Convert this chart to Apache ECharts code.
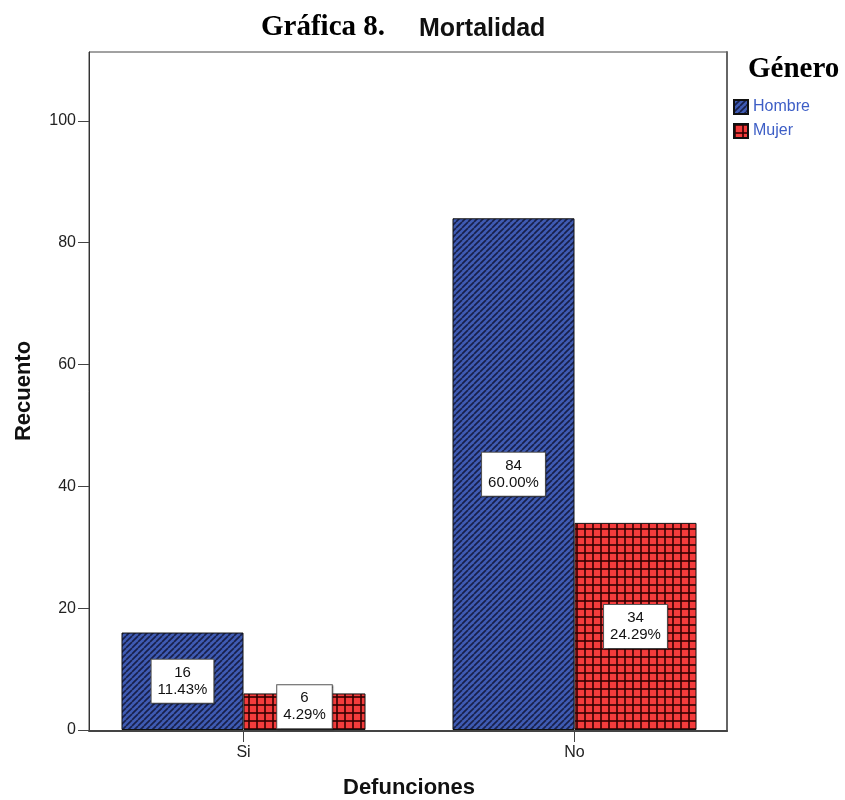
<!DOCTYPE html>
<html>
<head>
<meta charset="utf-8">
<script src="https://cdn.jsdelivr.net/npm/echarts@6/dist/echarts.min.js"></script>
<style>
  html, body { margin: 0; padding: 0; background: #fff; }
  #chart { width: 845px; height: 800px; }
</style>
</head>
<body>
<div id="chart"></div>
<script>
// Mortality counts by gender
const categories = ['Si', 'No'];
const hombre = [16, 84];
const mujer = [6, 34];
const yTicks = [0, 20, 40, 60, 80, 100];
const yMax = 111.3;

const total = hombre.concat(mujer).reduce((a, b) => a + b, 0);

// Fill patterns for the bars
function stripeTile() {
  const s = 6;
  const c = document.createElement('canvas');
  c.width = s; c.height = s;
  const g = c.getContext('2d');
  g.fillStyle = '#3f5bb3';
  g.fillRect(0, 0, s, s);
  g.strokeStyle = '#18204a';
  g.lineWidth = 1.7;
  for (const k of [-s, 0, s]) {
    g.beginPath();
    g.moveTo(k, s);
    g.lineTo(k + s, 0);
    g.stroke();
  }
  return c;
}
function checkTile() {
  const s = 8;
  const c = document.createElement('canvas');
  c.width = s; c.height = s;
  const g = c.getContext('2d');
  g.fillStyle = '#f43c3c';
  g.fillRect(0, 0, s, s);
  g.fillStyle = 'rgba(50,0,0,0.8)';
  g.fillRect(0, 0, s, 2);
  g.fillRect(0, 0, 2, s);
  return c;
}

const labelStyle = {
  show: true,
  position: 'inside',
  formatter: p => p.value + '\n' + (p.value / total * 100).toFixed(2) + '%',
  backgroundColor: '#fff',
  borderColor: '#555',
  borderWidth: 1,
  padding: [5, 6, 4, 6],
  fontFamily: 'Liberation Sans',
  fontSize: 15,
  lineHeight: 17,
  color: '#111',
  shadowColor: 'rgba(0,0,0,0.25)',
  shadowOffsetX: 1,
  shadowOffsetY: 1,
  shadowBlur: 1
};

const chart = echarts.init(document.getElementById('chart'), null, { renderer: 'canvas' });

chart.setOption({
  animation: false,
  backgroundColor: '#fff',
  title: [
    { text: 'Gráfica 8.', left: 256, top: 8,
      textStyle: { fontFamily: 'Liberation Serif', fontWeight: 'bold', fontSize: 29, color: '#000' } },
    { text: 'Mortalidad', left: 414, top: 12,
      textStyle: { fontFamily: 'Liberation Sans', fontWeight: 'bold', fontSize: 25, color: '#111' } },
    { text: 'Género', left: 743, top: 50,
      textStyle: { fontFamily: 'Liberation Serif', fontWeight: 'bold', fontSize: 29, color: '#000' } }
  ],
  legend: {
    orient: 'vertical',
    left: 733,
    top: 99,
    padding: 0,
    itemWidth: 14,
    itemHeight: 14,
    itemGap: 8,
    icon: 'rect',
    textStyle: { fontFamily: 'Liberation Sans', fontSize: 16, color: '#3d5ec6' },
    data: ['Hombre', 'Mujer']
  },
  grid: [
    // outer frame
    { left: 89, right: 118, top: 52, bottom: 69, show: true, borderColor: '#444', borderWidth: 1,
      backgroundColor: 'transparent', outerBoundsMode: 'none' },
    // plotting grid
    { left: 78, right: 105, top: 52, bottom: 70, outerBoundsMode: 'none' }
  ],
  xAxis: [
    { gridIndex: 0, type: 'category', data: categories,
      axisLine: { show: true, lineStyle: { color: '#444', width: 2 } },
      axisTick: { show: false }, axisLabel: { show: false } },
    {
      gridIndex: 1,
      type: 'category',
      data: categories,
      name: 'Defunciones',
      nameLocation: 'middle',
      nameGap: 47,
      nameTextStyle: { fontFamily: 'Liberation Sans', fontWeight: 'bold', fontSize: 22, color: '#111' },
      axisLine: { show: false },
      axisTick: { show: true, alignWithLabel: true, length: 12, lineStyle: { color: '#444' } },
      axisLabel: { fontFamily: 'Liberation Sans', fontSize: 16, color: '#222', margin: 15 }
    }
  ],
  yAxis: [
    { gridIndex: 0, type: 'value', position: 'right',
      axisLine: { show: true, lineStyle: { color: '#666', width: 2 } },
      axisTick: { show: false }, axisLabel: { show: false }, splitLine: { show: false } },
    {
      gridIndex: 1,
      type: 'value',
      min: 0,
      max: yMax,
      offset: -11,
      name: 'Recuento',
      nameLocation: 'middle',
      nameGap: 54,
      nameTextStyle: { fontFamily: 'Liberation Sans', fontWeight: 'bold', fontSize: 22, color: '#111' },
      axisLine: { show: true, lineStyle: { color: '#333' } },
      axisTick: { show: true, length: 11, customValues: yTicks, lineStyle: { color: '#444' } },
      axisLabel: { fontFamily: 'Liberation Sans', fontSize: 16, color: '#222', margin: 13, customValues: yTicks },
      splitLine: { show: false }
    }
  ],
  series: [
    {
      name: 'Hombre',
      type: 'bar',
      xAxisIndex: 1,
      yAxisIndex: 1,
      barWidth: 122,
      barGap: '0%',
      data: hombre,
      itemStyle: { color: { image: stripeTile(), repeat: 'repeat' }, borderColor: '#111', borderWidth: 1 },
      label: labelStyle
    },
    {
      name: 'Mujer',
      type: 'bar',
      xAxisIndex: 1,
      yAxisIndex: 1,
      barWidth: 122,
      barGap: '0%',
      data: mujer.map((v, i) => i === 0 ? { value: v, label: { offset: [0, -5] } } : v),
      itemStyle: { color: { image: checkTile(), repeat: 'repeat' }, borderColor: '#111', borderWidth: 1 },
      label: labelStyle
    }
  ]
});
</script>
</body>
</html>
